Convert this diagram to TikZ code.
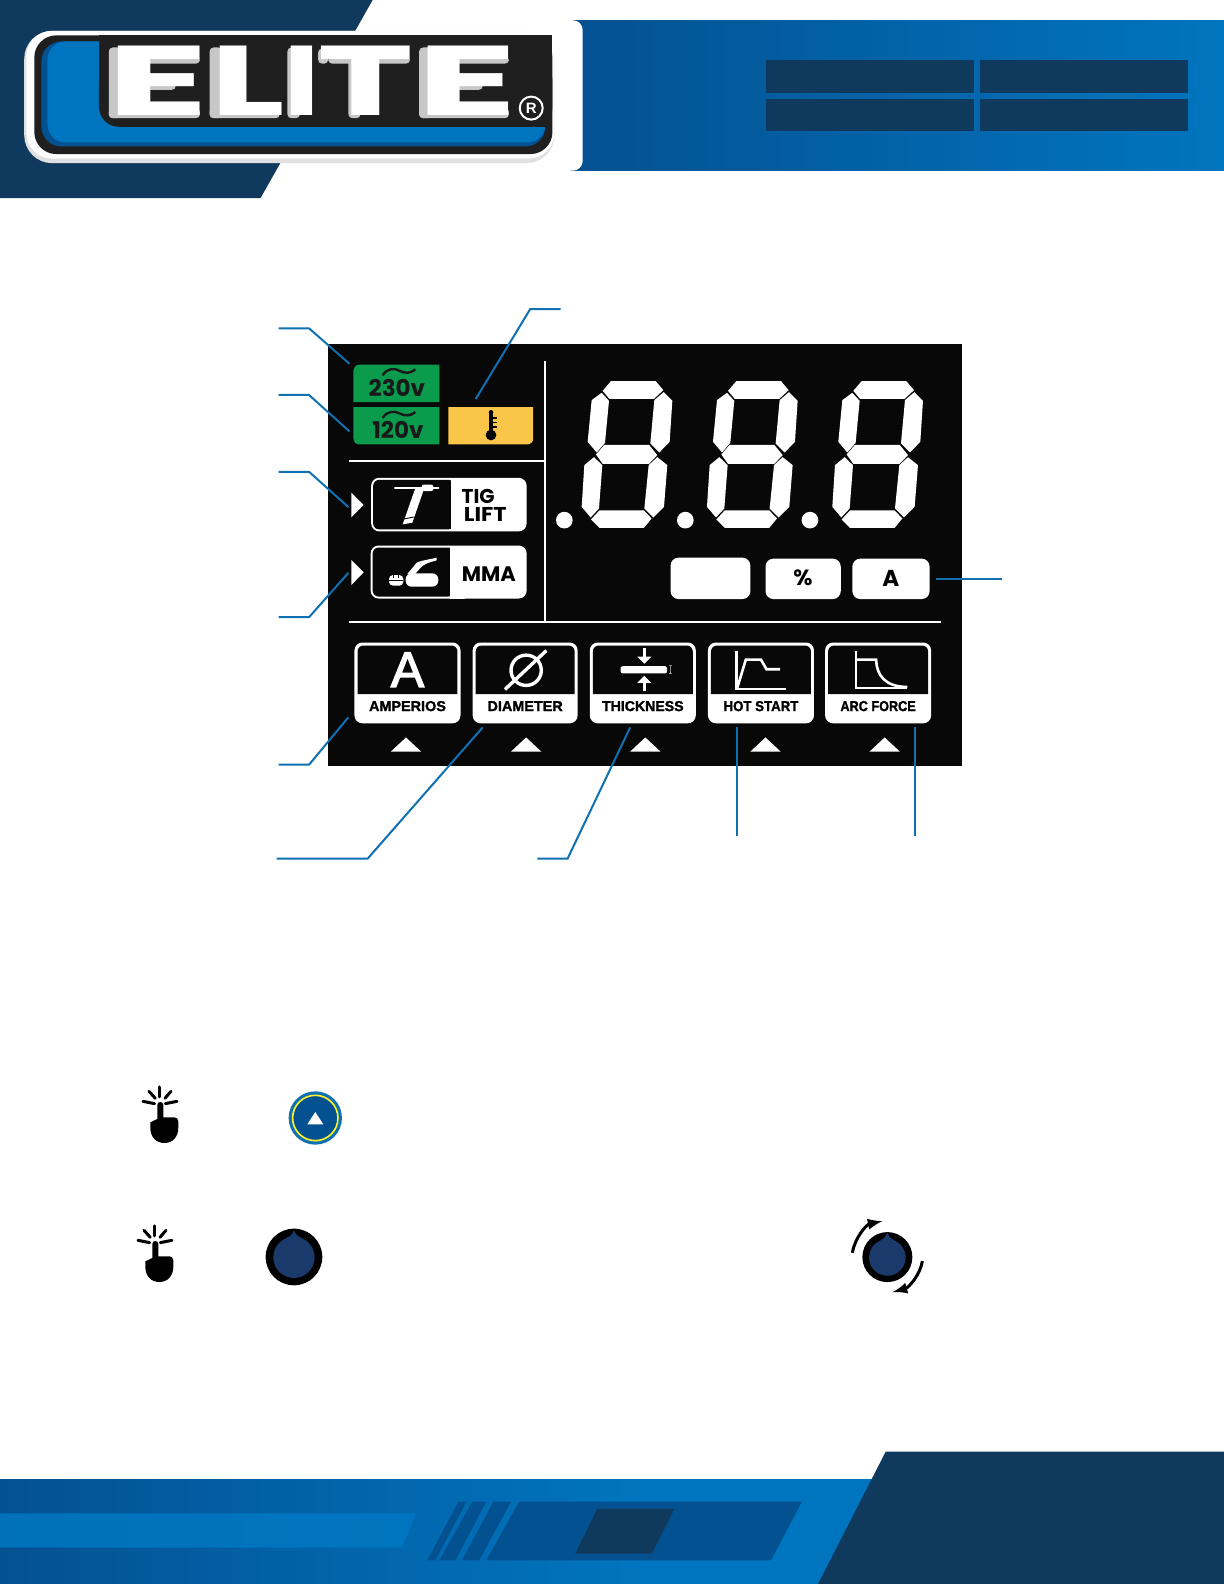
\documentclass[tikz,border=0pt]{standalone}
\usepackage{fontspec}
\setmainfont{Liberation Sans}
\newfontfamily\heavyfont{Poppins}
\newfontfamily\labelfont[FakeBold=1.6]{Liberation Sans Bold}
\newfontfamily\semifont[FakeBold=2.6]{Liberation Sans}
\usepackage{xcolor}
\usetikzlibrary{arrows}
\definecolor{enavy}{RGB}{15,58,94}
\definecolor{edark}{RGB}{4,81,145}
\definecolor{eblue}{RGB}{0,117,191}
\definecolor{eline}{RGB}{16,113,178}
\definecolor{eblack}{RGB}{8,8,8}
\definecolor{egreen}{RGB}{10,155,76}
\definecolor{eorange}{RGB}{249,198,74}
\definecolor{eknob}{RGB}{26,58,107}
\newcommand{\logoletter}[3]{\makebox[#1][c]{\scalebox{#2}[1]{#3}}}
\tikzset{
  zoomed/.style={x=0.16667bp,y=-0.16667bp},
  leader/.style={draw=eline,line width=1bp},
  btnlabel/.style={font=\labelfont\fontsize{7.2bp}{8bp}\selectfont,text=black,inner sep=0pt},
  iconline/.style={draw=white,line width=1.3bp},
  ray/.style={draw=black,line width=1.5bp,line cap=round},
}
\begin{document}
\begin{tikzpicture}[x=0.50495bp,y=-0.5051bp]
  \useasboundingbox (0,0) rectangle (1212,1568);
  \fill[white] (0,0) rectangle (1212,1568);

  %header band:
  \shade[left color=edark,right color=eblue] (565,20) rectangle (1212,169);
  \fill[white,rounded corners=5pt] (450,20) rectangle (577,169);
  \fill[enavy] (0,0) -- (369,0) -- (258,196) -- (0,196) -- cycle;
  \fill[enavy] (758,59.5) rectangle (964,92);
  \fill[enavy] (970,59.5) rectangle (1176,92);
  \fill[enavy] (758,98) rectangle (964,129.5);
  \fill[enavy] (970,98) rectangle (1176,129.5);

  %logo:
  \fill[black!12,rounded corners=14pt] (24,30.5) rectangle (549,161.5);
  \fill[white,rounded corners=13pt] (26,30.5) rectangle (549,157);
  \fill[black!88,rounded corners=11pt] (34,35) rectangle (547,152.5);
  \fill[edark,rounded corners=10pt] (41,41) rectangle (540,145);
  \fill[eblue,rounded corners=9pt] (47,41) rectangle (540,141);
  \fill[black!88] (120,35) rectangle (547,110);
  \fill[black!88] (98,35) rectangle (130,100);
  \fill[black!88,rounded corners=10pt] (98,60) rectangle (547,125.5);
  \fill[black!88] (530,90) rectangle (547,125.5);
  %letter shadows
  \foreach \xa/\ya/\xb/\yb in {107.7/47/120/117, 107.7/107/198/117, 120/56/198/63, 120/80/174/89,
    207.5/47/220/117, 207.5/107/277/117, 284.6/47/297/117,
    315/48/325/63, 325/56/406/63, 345/56/357/117,
    415/47/428/117, 415/107/504/117, 428/56/504/63, 428/80/478/89}{
    \fill[black!22,rounded corners=2pt] (\xa,\ya) rectangle (\xb,\yb);
  }
  \node[text=white,inner sep=0pt,font={\heavyfont\bfseries\fontsize{49.5bp}{50bp}\selectfont}] (logotext) at (310.3,79.5)
    {\logoletter{56.9bp}{1.92}{E}\logoletter{33.2bp}{1.58}{L}\logoletter{20.3bp}{1.26}{I}\logoletter{43.8bp}{1.65}{T}\logoletter{58.2bp}{1.89}{E}};
  \node[circle,draw=white,line width=1bp,text=white,inner sep=0pt,minimum size=11.5bp,
    font=\bfseries\fontsize{7.5bp}{8bp}\selectfont] (logoreg) at (526,107) {R};

  %display panel:
  \fill[eblack] (325,341) rectangle (953,758);
  \draw[white,line width=1bp] (540,357) -- (540,615);
  \draw[white,line width=1bp] (346,456) -- (540,456);
  \draw[white,line width=1bp] (346,615.5) -- (932,615.5);

  %voltage and temperature lamps
  \fill[egreen] (350,398) [rounded corners=3pt] -- (350,361) [sharp corners] -- (435,361) -- (435,398) -- cycle;
  \fill[egreen] (350,403) [rounded corners=3pt] -- (350,440) [sharp corners] -- (435,440) -- (435,403) -- cycle;
  \fill[eorange] (528,403) [rounded corners=3pt] -- (528,440) [sharp corners] -- (444,440) -- (444,403) -- cycle;
  \node[inner sep=0pt,text=black!90,font={\heavyfont\bfseries\fontsize{11.5bp}{12bp}\selectfont}] (lamphigh) at (393,384) {230v};
  \node[inner sep=0pt,text=black!90,font={\heavyfont\bfseries\fontsize{11.5bp}{12bp}\selectfont}] (lamplow) at (394,426) {120v};

  %mode boxes
  \fill[white,rounded corners=4pt] (367.5,473) rectangle (521.5,526);
  \fill[eblack,rounded corners=3pt] (369.5,475) rectangle (450,524);
  \fill[white] (446.5,473) rectangle (460,526);
  \fill[white,rounded corners=4pt] (367,540) rectangle (521.5,592.5);
  \fill[eblack,rounded corners=3pt] (369,542) rectangle (450,590.5);
  \fill[white] (446,540) rectangle (460,592.5);
  \node[inner sep=0pt,text=black,font={\heavyfont\bfseries\fontsize{10bp}{10bp}\selectfont}] (modetig) at (473.5,491.5) {TIG};
  \node[inner sep=0pt,text=black,font={\heavyfont\bfseries\fontsize{10bp}{10bp}\selectfont}] (modelift) at (480.5,509) {\scalebox{1.12}[1]{LIFT}};
  \node[inner sep=0pt,text=black,font={\heavyfont\bfseries\fontsize{10.5bp}{11bp}\selectfont}] (modemma) at (484,568.5) {MMA};

  %small icons of the left part
  \begin{scope}[shift={(316.87,336.6)},zoomed]
    \foreach \dy in {0,128}{
      \draw[black!90,line width=1.2bp] (188,106+\dy) .. controls (200,84+\dy) and (225,84+\dy) .. (238,92+\dy) .. controls (255,101+\dy) and (272,100+\dy) .. (286,88+\dy);
    }
    %thermometer
    \fill[black] (513,217) circle (7);
    \fill[black] (506,217) rectangle (520,285);
    \fill[black] (513,285) circle (16);
    \foreach \ya in {232,245,258}{ \fill[black] (520,\ya) rectangle (530,\ya+5); }
    %torch
    \draw[white,line width=1.2bp,line cap=round] (225,443) -- (355,443);
    \fill[white,rounded corners=1pt] (305,434) rectangle (340,453);
    \fill[white] (285,447) -- (312,447) -- (277,548) -- (248,553) -- cycle;
    \draw[eblack,line width=0.5bp] (251,537) -- (281,531);
    %holder
    \fill[white,rounded corners=3pt] (257,700) rectangle (355,740);
    \fill[white] (262,702) -- (290,668) .. controls (300,662) and (330,658) .. (350,653) -- (350,661) .. controls (330,666) and (310,672) .. (300,685) -- (285,702) -- cycle;
    \fill[white,rounded corners=2pt] (207,705) rectangle (250,737);
    \draw[eblack,line width=0.5bp] (207,721) -- (250,721);
    \draw[eblack,line width=0.5bp] (220,705) -- (220,714) (235,705) -- (235,714);
    %mode arrows
    \fill[white] (94,458) -- (131,495) -- (94,532) -- cycle;
    \fill[white] (94,660) -- (131,697) -- (94,735) -- cycle;
  \end{scope}

  %seven segment digits
  \begin{scope}[shift={(534.7,356.5)},zoomed]
    \foreach \dx in {0,376,752}{
      \begin{scope}[xshift=\dx*0.16667bp]
        \fill[white] (188,92) -- (213,63) -- (347,63) -- (370,90) -- (342,116) -- (208,116) -- cycle;
        \fill[white] (155,120) -- (185,98) -- (207,122) -- (195,248) -- (170,277) -- (143,245) -- cycle;
        \fill[white] (371,96) -- (397,122) -- (389,245) -- (358,277) -- (331,250) -- (343,120) -- cycle;
        \fill[white] (168,283) -- (193,254) -- (327,254) -- (352,285) -- (327,311) -- (188,311) -- cycle;
        \fill[white] (133,315) -- (162,291) -- (187,315) -- (177,445) -- (152,472) -- (125,440) -- cycle;
        \fill[white] (352,291) -- (382,315) -- (372,440) -- (340,472) -- (313,445) -- (326,315) -- cycle;
        \fill[white] (153,478) -- (178,451) -- (312,451) -- (335,475) -- (312,503) -- (178,503) -- cycle;
      \end{scope}
    }
    \foreach \xd in {73,436,810}{
      \fill[white] (\xd,480) circle (25);
    }
  \end{scope}

  %unit boxes
  \fill[white,rounded corners=4pt] (664,552) rectangle (743,593);
  \fill[white,rounded corners=4pt] (758,553) rectangle (832.5,593);
  \fill[white,rounded corners=4pt] (844,553) rectangle (920.5,593);
  \node[inner sep=0pt,text=black,font={\heavyfont\bfseries\fontsize{11bp}{12bp}\selectfont}] (unitpct) at (795,572) {\%};
  \node[inner sep=0pt,text=black,font={\heavyfont\bfseries\fontsize{11.5bp}{12bp}\selectfont}] (unitamp) at (882,573) {A};

  %function buttons
  \foreach \xl/\xr/\xt/\tag/\sx/\lab in {351/456/402/amp/1/AMPERIOS,468/572/521/dia/1/DIAMETER,584/689/639/thk/0.98/THICKNESS,701/806/758/hot/0.92/HOT START,817/922/876/arc/0.88/ARC FORCE}{
    \fill[white,rounded corners=4pt] (\xl,636) rectangle (\xr,716);
    \fill[eblack] (\xl+3,687) [rounded corners=3pt] -- (\xl+3,639) -- (\xr-3,639) [sharp corners] -- (\xr-3,687) -- cycle;
    \fill[white] (\xt-15,744) -- (\xt,730) -- (\xt+15,744) -- cycle;
    \node[btnlabel] (btn\tag) at ({(\xl+\xr)/2},699) {\scalebox{\sx}[1]{\lab}};
  }
  \node[inner sep=0pt,text=white,font=\semifont\fontsize{25bp}{25bp}\selectfont] (iconamp) at (403.5,663) {A};
  %diameter
  \draw[white,line width=1.7bp] (521,663.5) circle (15);
  \draw[white,line width=1.7bp] (500,682.5) -- (541,644);
  %thickness
  \fill[white,rounded corners=1pt] (614.5,659.5) rectangle (660.5,666.5);
  \draw[white,line width=1.2bp] (638,641.5) -- (638,652);
  \draw[white,line width=1.2bp] (638,684.5) -- (638,674);
  \fill[white] (631,650) -- (645,650) -- (638,657) -- cycle;
  \fill[white] (631,676) -- (645,676) -- (638,669) -- cycle;
  \draw[black!45,line width=0.4bp] (663.5,659) -- (663.5,667) (662,659) -- (665,659) (662,667) -- (665,667);
  %hot start
  \draw[iconline] (729,644) -- (729,682) -- (778,682);
  \draw[iconline] (730,681) -- (738.5,653) -- (753.5,653) -- (759,662.5) -- (772.5,662.5);
  %arc force
  \draw[iconline] (847.5,644) -- (847.5,681) -- (898.5,681);
  \draw[iconline] (847.5,653) -- (867.5,653) .. controls (868,668) and (876,680) .. (898.5,680);

  %leader lines
  \foreach \na/\xa/\ya/\xb/\yb/\xc/\yc in {
    l1/276/325/306/325/346/360,
    l2/276/391/306/391/346/427,
    l3/276/467/306/467/345/502,
    l4/276/611/306/611/345/567,
    l5/276/757/306/757/345/710,
    l6/274/850/364/850/478/720,
    l7/532/850/562/850/624/720,
    l8/555/306/525/306/471/395}{
    \coordinate (\na a) at (\xa,\ya);
    \coordinate (\na b) at (\xb,\yb);
    \coordinate (\na c) at (\xc,\yc);
    \draw[leader] (\na a) -- (\na b) -- (\na c);
  }
  \coordinate (l9a) at (730,828);
  \coordinate (l9b) at (730,720);
  \coordinate (l10a) at (906,828);
  \coordinate (l10b) at (906,720);
  \coordinate (l11a) at (927,573);
  \coordinate (l11b) at (992,573);
  \draw[leader] (l9a) -- (l9b);
  \draw[leader] (l10a) -- (l10b);
  \draw[leader] (l11a) -- (l11b);

  %hand icons
  \begin{scope}[shift={(118.8,1059.5)},zoomed]
    \foreach \dx/\dy in {0/0,-15/417}{
      \begin{scope}[xshift=\dx*0.16667bp,yshift=-\dy*0.16667bp]
        \draw[ray] (120,50) -- (120,80);
        \draw[ray] (87,63) -- (106,84);
        \draw[ray] (153,63) -- (135,84);
        \draw[ray] (69,93) -- (104,100);
        \draw[ray] (171,93) -- (136,100);
        \fill[black] (91,172) -- (91,156) -- (112,146) -- (112,104) .. controls (112,92) and (130,92) .. (130,104) -- (130,141) -- (163,141) .. controls (170,141) and (175,146) .. (175,153) -- (175,172) .. controls (175,200) and (158,218) .. (133,218) .. controls (108,218) and (91,200) .. (91,172) -- cycle;
      \end{scope}
    }
    %up button
    \fill[eline] (586,143) circle (80);
    \fill[edark] (586,143) circle (69);
    \draw[yellow!85!white,line width=0.8bp] (586,143) circle (68);
    \fill[white] (562,162) -- (586,125) -- (610,162) -- cycle;
    %knob
    \fill[black] (522,560) circle (85);
    \fill[eknob] (522,561) circle (62);
    \fill[eknob] (522,478) .. controls (524,490) and (532,498) .. (545,503) -- (499,503) .. controls (512,498) and (520,490) .. (522,478) -- cycle;
  \end{scope}

  %turning knob
  \begin{scope}[shift={(821.9,1188.3)},zoomed]
    \fill[black] (172,170) circle (75);
    \fill[eknob] (172,171) circle (55);
    \fill[eknob] (172,96) .. controls (174,106) and (181,114) .. (192,119) -- (152,119) .. controls (163,114) and (170,106) .. (172,96) -- cycle;
    \draw[black,line width=1.5bp,-latex] (67,157) .. controls (75,110) and (110,72) .. (157,62);
    \draw[black,line width=1.5bp,-latex] (277,182) .. controls (270,225) and (235,262) .. (188,275);
  \end{scope}

  %footer
  \shade[left color=edark,right color=eblue] (0,1464.5) rectangle (640,1568);
  \fill[eblue] (640,1464.5) rectangle (900,1568);
  \shade[left color=eblue!90!edark,right color=eblue] (0,1498) -- (412,1498) -- (398,1532) -- (0,1532) -- cycle;
  \fill[enavy] (877,1437) -- (1212,1437) -- (1212,1568) -- (810,1568) -- cycle;
  \fill[edark] (514,1486.5) -- (794,1486.5) -- (763.5,1544.5) -- (481.5,1544.5) -- cycle;
  \fill[enavy] (591.5,1493.5) -- (668,1493.5) -- (645.5,1538) -- (569.5,1538) -- cycle;
  \foreach \ta/\tb/\ba/\bb in {454/462/423/431,467.5/481.5/435/451,488.5/506/457.5/474.5}{
    \fill[edark] (\ta,1486.5) -- (\tb,1486.5) -- (\bb,1544.5) -- (\ba,1544.5) -- cycle;
  }
\end{tikzpicture}
\end{document}
